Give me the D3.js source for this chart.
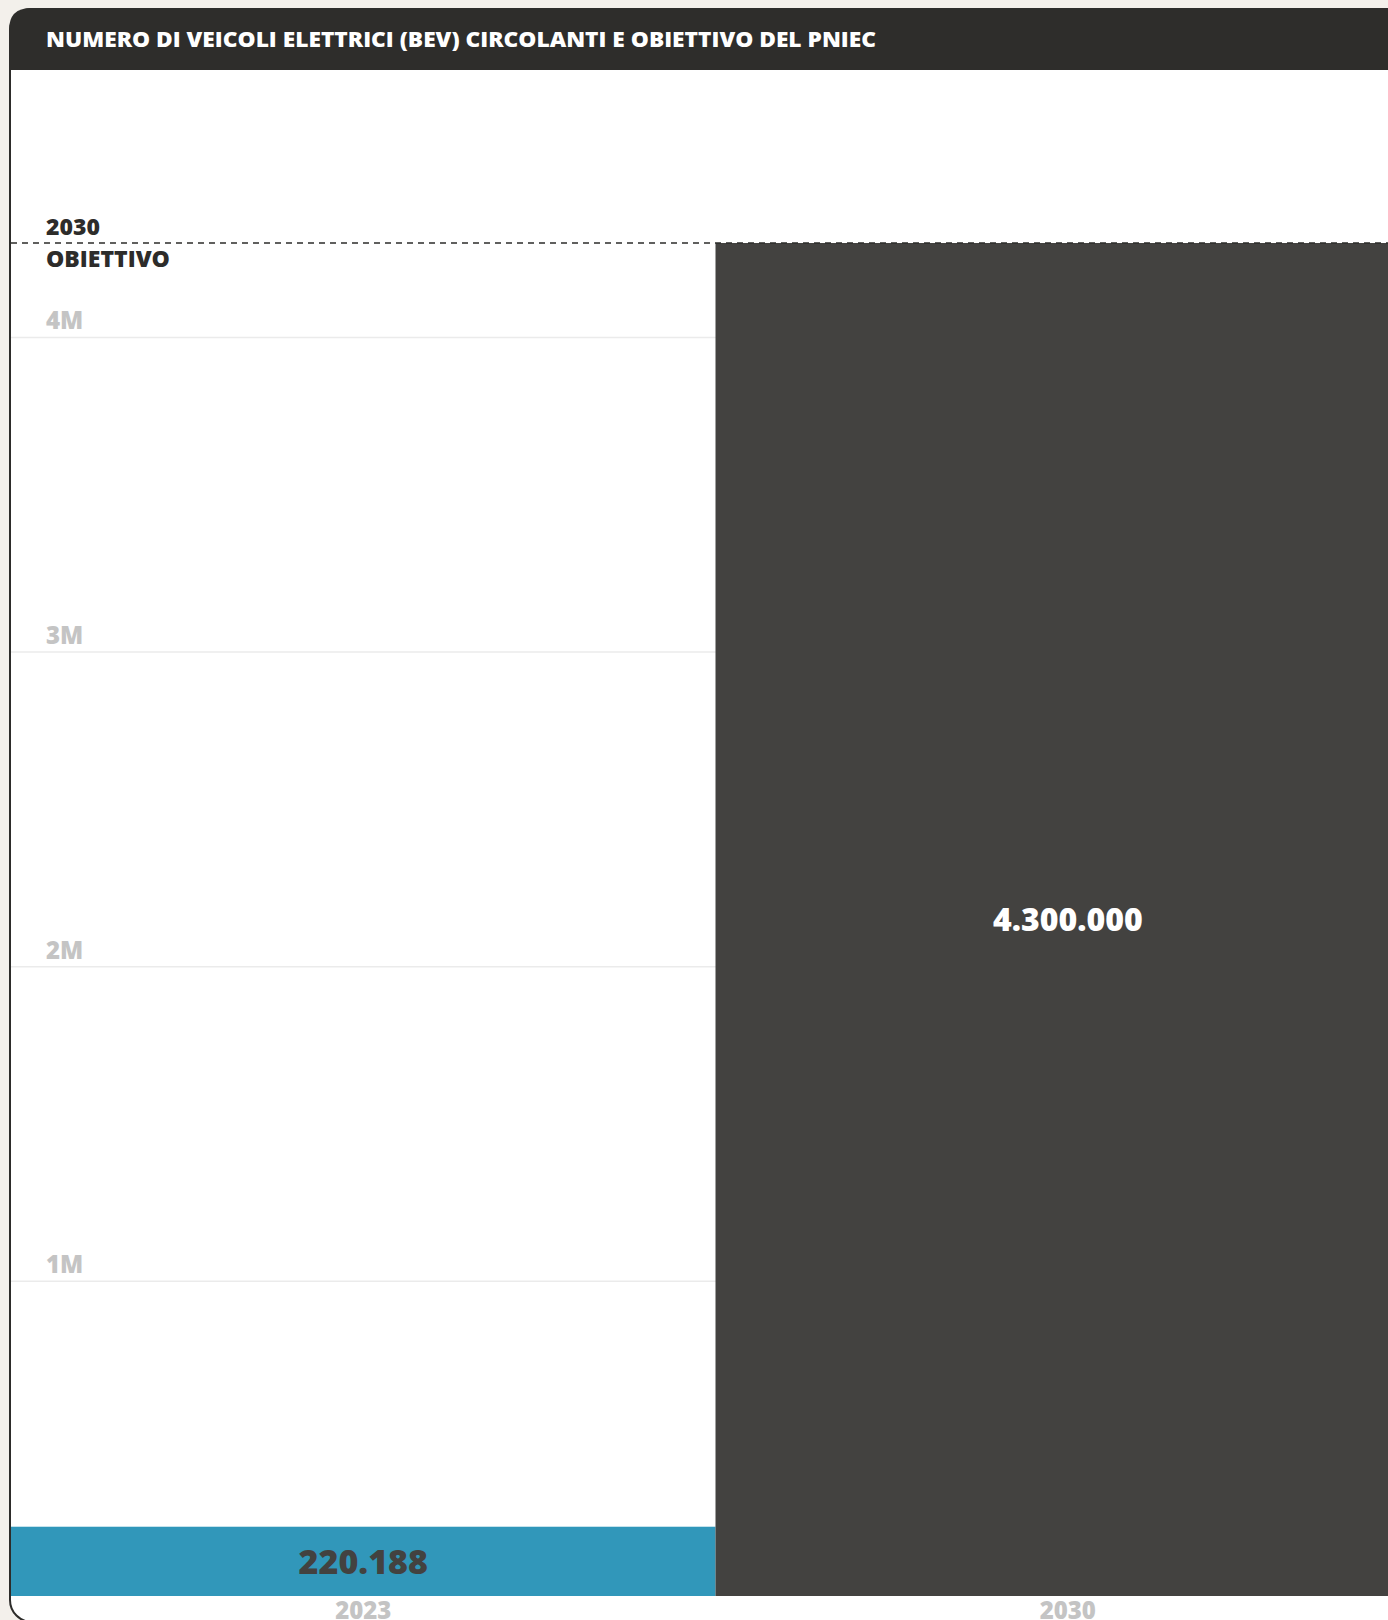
<!DOCTYPE html>
<html>
<head>
<meta charset="utf-8">
<script src="https://cdn.jsdelivr.net/npm/d3@7"></script>
<style>
  html, body { margin: 0; padding: 0; background: #f3f0eb; }
  svg { display: block; }
  text { font-family: "Open Sans", "Lato", sans-serif; font-weight: 800; }
</style>
</head>
<body>
<svg id="chart" width="1388" height="1620"></svg>
<script>
// ---- data ----
const title = "NUMERO DI VEICOLI ELETTRICI (BEV) CIRCOLANTI E OBIETTIVO DEL PNIEC";
const categories = ["2023", "2030"];
const values = [220188, 4300000];
const valueLabels = ["220.188", "4.300.000"];
const tickValues = [1000000, 2000000, 3000000, 4000000];
const tickLabels = ["1M", "2M", "3M", "4M"];
const targetValue = 4300000;
const targetLabelLines = ["2030", "OBIETTIVO"];
const barColors = ["#3197ba", "#434240"];
const valueLabelColors = ["#434240", "#ffffff"];

// ---- layout ----
const W = 1388, H = 1620;
const svg = d3.select("#chart");

const cardX = 10, cardY = 9, cardW = 1440, cardH = 1613, rad = 22;
const headerH = 61;

// card body
svg.append("rect")
  .attr("x", cardX).attr("y", cardY).attr("width", cardW).attr("height", cardH)
  .attr("rx", rad).attr("ry", rad)
  .attr("fill", "#ffffff").attr("stroke", "#2d2c2a").attr("stroke-width", 2);

// header bar (rounded top corners)
const hx = cardX - 1, hy = cardY - 1, hw = cardW + 2, hh = headerH + 1;
svg.append("path")
  .attr("d", `M${hx},${hy + hh} L${hx},${hy + rad} Q${hx},${hy} ${hx + rad},${hy} L${hx + hw},${hy} L${hx + hw},${hy + hh} Z`)
  .attr("fill", "#2e2d2b");

svg.append("text")
  .attr("x", 46).attr("y", 47)
  .attr("fill", "#ffffff")
  .attr("font-size", 21.5)
  .attr("textLength", 830)
  .attr("lengthAdjust", "spacingAndGlyphs")
  .text(title);

// scales
const x = d3.scaleBand().domain(categories).range([11, 1420]).paddingInner(0).paddingOuter(0);
const y = d3.scaleLinear().domain([0, targetValue]).range([1596, 243]);

const plot = svg.append("g");

// gridlines
plot.selectAll("line.grid").data(tickValues).join("line")
  .attr("class", "grid")
  .attr("x1", 11).attr("x2", W)
  .attr("y1", d => y(d)).attr("y2", d => y(d))
  .attr("stroke", "#ebebeb").attr("stroke-width", 1.5);

// tick labels
plot.selectAll("text.tick").data(tickValues).join("text")
  .attr("class", "tick")
  .attr("x", 46)
  .attr("y", d => y(d) - 8)
  .attr("fill", "#c4c4c4")
  .attr("font-size", 24)
  .text((d, i) => tickLabels[i]);

// bars
plot.selectAll("rect.bar").data(values).join("rect")
  .attr("class", "bar")
  .attr("x", (d, i) => x(categories[i]))
  .attr("width", x.bandwidth())
  .attr("y", d => y(d))
  .attr("height", d => y(0) - y(d))
  .attr("fill", (d, i) => barColors[i]);

// value labels (centered in bars)
plot.selectAll("text.val").data(values).join("text")
  .attr("class", "val")
  .attr("x", (d, i) => x(categories[i]) + x.bandwidth() / 2)
  .attr("y", d => (y(d) + y(0)) / 2)
  .attr("dy", "0.36em")
  .attr("text-anchor", "middle")
  .attr("fill", (d, i) => valueLabelColors[i])
  .attr("font-size", (d, i) => i === 0 ? 34 : 32)
  .text((d, i) => valueLabels[i]);

// x axis labels
plot.selectAll("text.xl").data(categories).join("text")
  .attr("class", "xl")
  .attr("x", d => x(d) + x.bandwidth() / 2)
  .attr("y", 1619)
  .attr("text-anchor", "middle")
  .attr("fill", "#c4c4c4")
  .attr("font-size", 24)
  .text(d => d);

// target dashed line
plot.append("line")
  .attr("x1", 11).attr("x2", W)
  .attr("y1", y(targetValue)).attr("y2", y(targetValue))
  .attr("stroke", "#2d2c2a").attr("stroke-width", 1.6)
  .attr("stroke-dasharray", "6,5");

plot.selectAll("text.target").data(targetLabelLines).join("text")
  .attr("class", "target")
  .attr("x", 46)
  .attr("y", (d, i) => y(targetValue) - 8 + i * 32)
  .attr("fill", "#2d2c2a")
  .attr("font-size", 23)
  .text(d => d);
</script>
</body>
</html>
